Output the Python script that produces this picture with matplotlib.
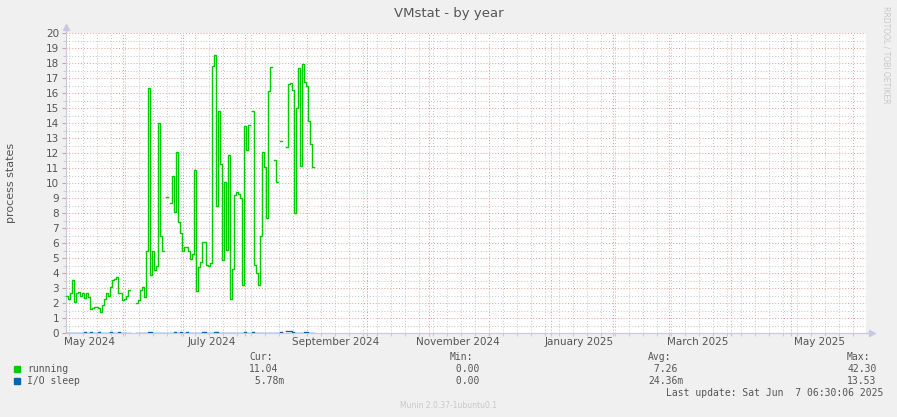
import numpy as np
import matplotlib
matplotlib.use("Agg")
import matplotlib.pyplot as plt
import matplotlib.dates as mdates
from datetime import datetime, timedelta

# graph window (munin "by year" = 400 days)
t_end = datetime(2025, 6, 7, 6, 30)
t_start = t_end - timedelta(days=400)
first_day = datetime(2024, 5, 3, 6, 30)

# daily averages, None = no data
running = [
    2.45, 2.3, 2.65, 3.55, 2.1, 2.65, 2.75, 2.5, 2.65, 2.35,
    2.65, 2.4, 1.6, 1.65, 1.75, 1.75, 1.7, 1.4, 1.85, 2.3,
    2.65, 2.5, 3.1, 3.55, 3.6, 3.75, 2.65, 2.65, 2.2, 2.3,
    2.45, 2.85, None, None, None, 2.0, 2.2, 2.85, 3.1, 2.4,
    5.5, 16.35, 3.9, 5.5, 4.2, 4.45, 14.0, 6.5, 5.5, None,
    9.05, None, 8.7, 10.5, 8.1, 12.05, 7.4, 6.7, 5.5, 5.75,
    5.75, 5.5, 4.95, 5.3, 10.9, 2.8, 4.4, 4.75, 6.05, 6.05,
    4.55, 4.45, 4.65, 17.8, 18.55, 8.5, 14.8, 11.3, 4.9, 10.1,
    5.55, 11.9, 2.3, 4.3, 9.2, 9.4, 9.3, 9.0, 3.2, 13.8,
    12.2, 13.85, None, 14.8, 4.55, 4.0, 3.2, 6.5, 12.1, 11.1,
    7.65, 16.1, 17.75, None, 11.55, 10.05, None, 12.8, None, None,
    12.4, 16.6, 16.7, 16.2, 8.0, 15.0, 17.7, 11.15, 17.95, 16.75,
    16.45, 14.15, 12.6, 11.05,
]
io_sleep = [
    0.0, 0.0, 0.0, 0.0, 0.0, 0.0, 0.0, 0.0, 0.0, 0.06,
    0.0, 0.0, 0.06, 0.0, 0.0, 0.0, 0.06, 0.0, 0.0, 0.0,
    0.0, 0.0, 0.05, 0.0, 0.0, 0.0, 0.05, 0.0, 0.0, 0.0,
    0.0, 0.0, None, None, None, 0.0, 0.0, 0.0, 0.0, 0.0,
    0.0, 0.06, 0.08, 0.0, 0.0, 0.0, 0.0, 0.0, 0.0, None,
    0.0, None, 0.0, 0.0, 0.06, 0.0, 0.0, 0.06, 0.0, 0.0,
    0.06, 0.0, 0.0, 0.0, 0.0, 0.0, 0.0, 0.0, 0.06, 0.06,
    0.0, 0.0, 0.0, 0.0, 0.06, 0.06, 0.0, 0.0, 0.0, 0.0,
    0.0, 0.0, 0.0, 0.0, 0.0, 0.0, 0.0, 0.0, 0.0, 0.06,
    0.0, 0.0, None, 0.05, 0.0, 0.0, 0.0, 0.0, 0.0, 0.0,
    0.0, 0.0, 0.0, None, 0.0, 0.0, None, 0.05, None, None,
    0.15, 0.12, 0.12, 0.1, 0.0, 0.0, 0.0, 0.0, 0.0, 0.08,
    0.1, 0.0, 0.0, 0.0,
]

legend_rows = [
    ("running", "#00CC00", "11.04", "0.00", "7.26", "42.30"),
    ("I/O sleep", "#0066B3", " 5.78m", "0.00", "24.36m", "13.53"),
]
month_labels = ["May 2024", "July 2024", "September 2024", "November 2024",
                "January 2025", "March 2025", "May 2025"]
label_dates = [datetime(2024, 5, 15), datetime(2024, 7, 15), datetime(2024, 9, 15),
               datetime(2024, 11, 15), datetime(2025, 1, 15), datetime(2025, 3, 15),
               datetime(2025, 5, 15)]

W, H = 897, 417
BG = "#F0F0F0"
TXT = "#555555"

def fx(px):
    return px / W

def fy(py):
    return 1 - py / H

fig = plt.figure(figsize=(W / 100, H / 100), dpi=100, facecolor=BG)
ax = fig.add_axes([fx(66), fy(333), 800 / W, 300 / H])
ax.set_facecolor("white")

days = [first_day + timedelta(days=i) for i in range(len(running) + 1)]
r = np.array([np.nan if v is None else v for v in running] + [np.nan])
r[-1] = r[-2]
s = np.array([np.nan if v is None else v for v in io_sleep] + [np.nan])
s[-1] = s[-2]

ax.plot(days, s, drawstyle="steps-post", color="#0066B3", lw=1.0, zorder=3)
ax.plot(days, r, drawstyle="steps-post", color="#00CC00", lw=1.0, zorder=4)

ax.set_xlim(t_start, t_end)
ax.set_ylim(0, 20)

# grid: minor grey every 0.5 / week, major red every 1 / month
ax.set_yticks(range(0, 21))
ax.set_yticks(np.arange(0.5, 20, 1.0), minor=True)
ax.xaxis.set_major_locator(mdates.MonthLocator())
ax.xaxis.set_minor_locator(mdates.WeekdayLocator(byweekday=mdates.SU))
ax.xaxis.set_major_formatter(plt.NullFormatter())
ax.grid(which="minor", color="#C4C4C4", lw=0.7, linestyle=(0, (1, 2)))
ax.grid(which="major", color="#E29A9A", lw=0.7, linestyle=(0, (1, 2)))
ax.set_axisbelow(True)

ax.tick_params(axis="y", which="major", length=3, color="#E29A9A",
               labelsize=7.5, labelcolor=TXT, pad=2)
ax.tick_params(axis="y", which="minor", length=2, color="#C4C4C4")
ax.tick_params(axis="x", which="both", length=2, color="#C4C4C4")

for d, lab in zip(label_dates, month_labels):
    ax.text(mdates.date2num(d), -0.03, lab, transform=ax.get_xaxis_transform(),
            ha="center", va="center", fontsize=7.5, color=TXT)

for sp in ["top", "right"]:
    ax.spines[sp].set_visible(False)
axc = "#C8C8E6"
ax.spines["left"].set_color(axc)
ax.spines["bottom"].set_color(axc)
ax.plot([0, 0], [1, 1.015], transform=ax.transAxes, color=axc, lw=1, clip_on=False)
ax.plot([1, 1.007], [0, 0], transform=ax.transAxes, color=axc, lw=1, clip_on=False)
ax.plot([0], [1.02], marker="^", markersize=4, color=axc, transform=ax.transAxes, clip_on=False)
ax.plot([1.0075], [0], marker=">", markersize=4, color=axc, transform=ax.transAxes, clip_on=False)

fig.text(0.5, fy(14), "VMstat - by year", ha="center", va="center", fontsize=9.5, color=TXT)
fig.text(fx(11), fy(183), "process states", rotation=90, ha="center", va="center",
         fontsize=8, color=TXT)
fig.text(fx(886), fy(55), "RRDTOOL / TOBI OETIKER", rotation=270, ha="center", va="center",
         fontsize=5.5, color="#C8C8C8")

mono = "DejaVu Sans Mono"
fs = 7
fig.text(fx(249), fy(357), "Cur:", family=mono, fontsize=fs, color=TXT, va="center")
fig.text(fx(450), fy(357), "Min:", family=mono, fontsize=fs, color=TXT, va="center")
fig.text(fx(648), fy(357), "Avg:", family=mono, fontsize=fs, color=TXT, va="center")
fig.text(fx(847), fy(357), "Max:", family=mono, fontsize=fs, color=TXT, va="center")
for i, (name, col, cur, mn, avg, mx) in enumerate(legend_rows):
    yy = 369 + 12 * i
    fig.patches.append(plt.Rectangle((fx(14), fy(yy + 3)), 6 / W, 6 / H, color=col,
                                     transform=fig.transFigure, figure=fig))
    fig.text(fx(27), fy(yy), name, family=mono, fontsize=fs, color=TXT, va="center")
    fig.text(fx(249), fy(yy), cur, family=mono, fontsize=fs, color=TXT, va="center")
    fig.text(fx(450), fy(yy), " " + mn, family=mono, fontsize=fs, color=TXT, va="center")
    fig.text(fx(648), fy(yy), avg if avg.endswith("m") else " " + avg, family=mono,
             fontsize=fs, color=TXT, va="center")
    fig.text(fx(847), fy(yy), mx, family=mono, fontsize=fs, color=TXT, va="center")
fig.text(fx(883), fy(393), "Last update: Sat Jun  7 06:30:06 2025", family=mono,
         fontsize=fs, color=TXT, va="center", ha="right")
fig.text(0.5, fy(406), "Munin 2.0.37-1ubuntu0.1", ha="center", va="center",
         fontsize=5.5, color="#C8C8C8")

fig.savefig("out.png", dpi=100, facecolor=BG)
